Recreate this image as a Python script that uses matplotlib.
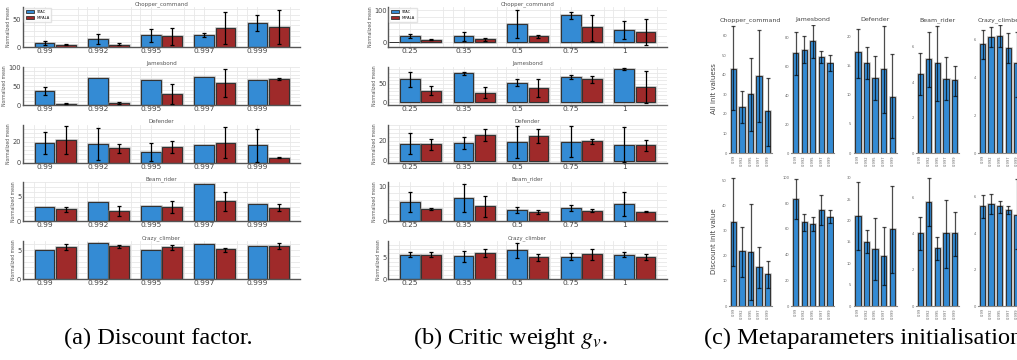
import matplotlib
matplotlib.use("Agg")
import matplotlib.pyplot as plt
import numpy as np
from matplotlib.ticker import AutoMinorLocator, FixedLocator

W, H = 1017, 360
BLUE = "#348bd4"
RED = "#9f2a2a"
NA = np.nan

games = ["Chopper_command", "Jamesbond", "Defender", "Beam_rider", "Crazy_climber"]

# (a) discount factor: rows = games, cols = gamma values
gamma_labels = ["0.99", "0.992", "0.995", "0.997", "0.999"]
a_stac = [[7.3, 14.6, 21.3, 22.0, 45.0],
          [37.9, 69.8, 64.7, 73.3, 66.4],
          [18.5, 17.8, 10.5, 17.2, 16.6],
          [2.85, 4.03, 3.13, 7.7, 3.54],
          [5.11, 6.3, 5.06, 6.14, 5.8]]
a_stac_lo = [[4.3, 5.5, 9.1, 18.3, 28.7],
             [25.9, NA, NA, NA, NA],
             [8.3, 3.1, 1.8, NA, 0.6],
             [NA, NA, NA, NA, NA],
             [NA, NA, NA, NA, NA]]
a_stac_hi = [[10.4, 23.8, 33.0, 25.6, 60.0],
             [48.0, NA, NA, NA, NA],
             [29.2, 32.9, 19.1, NA, 32.0],
             [NA, NA, NA, NA, NA],
             [NA, NA, NA, NA, NA]]
a_impala = [[4.3, 4.3, 19.5, 34.8, 36.6],
            [3.4, 5.2, 28.4, 58.6, 67.2],
            [21.2, 13.8, 15.4, 18.8, 4.6],
            [2.43, 2.15, 2.92, 4.17, 2.71],
            [5.5, 5.68, 5.62, 5.17, 5.8]]
a_impala_lo = [[3.0, 3.0, 3.7, 4.9, 5.5],
               [2.6, 2.6, 1.7, 20.7, 65.5],
               [8.3, 8.9, 9.8, 4.6, 4.3],
               [1.88, 1.11, 1.74, 2.08, 2.0],
               [5.0, 5.34, 5.11, 4.72, 5.28]]
a_impala_hi = [[5.5, 6.7, 34.8, 64.0, 68.3],
               [4.2, 7.8, 54.3, 95.7, 69.8],
               [34.5, 18.2, 20.6, 33.2, 5.2],
               [2.85, 3.06, 4.1, 6.04, 3.47],
               [6.0, 5.9, 5.97, 5.45, 6.25]]
a_ylim = [(0, 74), (0, 100), (0, 35.5), (0, 8.1), (0, 6.6)]
a_yticks = [[0, 50], [0, 50, 100], [0, 20], [0, 5], [0, 5]]

# (b) critic weight g_v
gv_labels = ["0.25", "0.35", "0.5", "0.75", "1"]
b_stac = [[19.6, 19.6, 56.7, 83.5, 38.1],
          [62.5, 78.6, 52.7, 68.8, 89.3],
          [17.0, 17.7, 18.7, 18.7, 16.3],
          [5.38, 6.54, 3.17, 3.85, 4.8],
          [5.69, 5.3, 6.69, 5.15, 5.69]]
b_stac_lo = [[14.4, 5.2, 13.4, 73.2, 9.3],
             [42.9, 75.0, 44.6, 64.3, 86.6],
             [6.7, 11.7, 2.7, 3.3, -1.0],
             [2.69, 2.5, 2.2, 2.9, 1.35],
             [5.15, 4.0, 5.0, 4.38, 5.15]]
b_stac_hi = [[24.7, 33.0, 100.0, 93.8, 67.0],
             [83.0, 82.0, 62.5, 73.2, 92.0],
             [27.7, 23.7, 34.7, 35.0, 33.7],
             [8.27, 10.6, 4.13, 4.7, 8.46],
             [6.23, 6.46, 8.46, 6.0, 6.38]]
b_impala = [[7.2, 9.3, 18.6, 46.4, 32.0],
            [32.1, 26.8, 38.4, 63.4, 41.0],
            [16.7, 26.0, 25.0, 19.7, 15.7],
            [3.46, 4.23, 2.6, 2.98, 2.7],
            [5.69, 6.08, 5.08, 5.77, 5.08]]
b_impala_lo = [[6.2, 3.1, 14.4, 5.2, -9.3],
               [19.6, 11.6, 13.4, 53.6, -2.7],
               [11.0, 20.3, 17.7, 17.3, 9.3],
               [3.17, 1.15, 1.92, 2.6, 2.6],
               [5.15, 5.08, 4.23, 4.54, 4.38]]
b_impala_hi = [[9.3, 14.4, 23.7, 85.6, 73.2],
               [43.8, 41.0, 63.4, 72.3, 84.8],
               [22.0, 32.0, 32.0, 22.3, 21.3],
               [3.75, 7.1, 3.17, 3.37, 2.79],
               [6.3, 7.08, 5.92, 6.92, 5.85]]
b_ylim = [(-15, 110), (-7, 96), (-2.3, 36), (0, 11.3), (0, 8.9)]
b_yticks = [[0, 100], [0, 50], [0, 20], [0, 10], [0, 5]]

# (c) metaparameter initialisation (STAC only)
init_labels = ["0.99", "0.992", "0.995", "0.997", "0.999"]
c_all = [[43.0, 23.6, 30.0, 39.5, 21.3],
         [68.9, 71.2, 77.2, 66.6, 62.0],
         [17.3, 15.4, 12.9, 14.4, 9.6],
         [4.49, 5.3, 5.08, 4.2, 4.1],
         [5.75, 6.14, 6.19, 5.54, 4.74]]
c_all_lo = [[21.8, 15.3, 11.2, 16.0, 3.6],
            [53.6, 62.0, 65.4, 62.4, 56.9],
            [12.9, 12.6, 9.1, 6.9, 2.5],
            [3.28, 3.74, 2.94, 3.0, 3.2],
            [4.97, 5.63, 5.63, 4.74, 2.97]]
c_all_hi = [[65.0, 31.6, 48.6, 63.0, 38.4],
            [83.7, 81.0, 88.3, 70.5, 67.5],
            [21.3, 18.1, 16.6, 21.8, 16.9],
            [5.66, 6.85, 7.2, 5.4, 4.94],
            [6.48, 6.65, 6.76, 6.34, 6.42]]
c_disc = [[33.6, 21.9, 21.5, 15.6, 12.7],
          [83.2, 65.1, 63.8, 74.7, 69.5],
          [21.0, 15.1, 13.4, 11.8, 18.0],
          [4.07, 5.74, 3.24, 4.06, 4.02],
          [5.47, 5.58, 5.47, 5.25, 5.0]]
c_disc_lo = [[15.9, 11.6, 2.3, 7.3, 7.3],
             [67.7, 58.7, 58.1, 63.0, 64.6],
             [13.2, 12.3, 6.2, 5.0, 7.8],
             [3.13, 4.43, 2.57, 2.13, 2.76],
             [4.81, 5.03, 5.08, 5.03, 3.1]]
c_disc_hi = [[51.3, 31.6, 40.8, 23.7, 18.0],
             [98.7, 71.6, 69.5, 86.6, 74.7],
             [29.0, 17.8, 20.6, 18.6, 28.2],
             [4.94, 7.07, 3.83, 5.9, 5.22],
             [6.09, 6.12, 5.74, 5.48, 6.95]]
c_all_ylim = [65.5, 88.5, 21.9, 7.23, 6.77]
c_all_step = [10, 20, 5, 2, 2]
c_disc_ylim = [51.5, 100.5, 30.2, 7.15, 7.07]
c_disc_step = [10, 20, 5, 2, 2]

rows_px = [(7, 47), (67, 105), (125, 163), (182, 221), (241, 279)]


def box(x0, y0, x1, y1):
    return [x0 / W, 1 - y1 / H, (x1 - x0) / W, (y1 - y0) / H]


def bars(ax, x, mean, lo, hi, color, width, ecol="black", ealpha=1.0):
    mean, lo, hi = (np.asarray(v, dtype=float) for v in (mean, lo, hi))
    ax.bar(x, mean, width=width, color="none", edgecolor="#999999",
           linewidth=1.8, alpha=0.6, zorder=2)
    ax.bar(x, mean, width=width, color=color, edgecolor="#333333",
           linewidth=0.8, zorder=2)
    ok = ~np.isnan(lo)
    ax.errorbar(x[ok], mean[ok], yerr=[mean[ok] - lo[ok], hi[ok] - mean[ok]],
                fmt="none", ecolor=ecol, alpha=ealpha, elinewidth=0.9,
                capsize=1.2, capthick=0.9, zorder=3)


def pair_panel(x0, x1, labels, stac, stac_lo, stac_hi, imp, imp_lo, imp_hi,
               ylims, yticks):
    x = np.arange(len(labels))
    for g, (t, b) in enumerate(rows_px):
        ax = fig.add_axes(box(x0, t, x1, b))
        bars(ax, x, stac[g], stac_lo[g], stac_hi[g], BLUE, 0.37)
        bars(ax, x + 0.4, imp[g], imp_lo[g], imp_hi[g], RED, 0.37)
        ax.set_xlim(-0.41, 4.8)
        ax.set_ylim(*ylims[g])
        ax.set_yticks(yticks[g])
        ax.yaxis.set_minor_locator(AutoMinorLocator(5))
        ax.set_xticks(x)
        ax.set_xticklabels(labels)
        ax.xaxis.set_minor_locator(FixedLocator(np.concatenate([x - 0.2, x + 0.62])))
        ax.set_axisbelow(True)
        ax.grid(True, which="both", color="#e8e8e8", linewidth=0.6)
        for s in ("top", "right"):
            ax.spines[s].set_visible(False)
        for s in ("left", "bottom"):
            ax.spines[s].set_color("#555555")
            ax.spines[s].set_linewidth(1.0)
        ax.tick_params(axis="x", which="both", length=0, labelsize=5.4,
                       labelcolor="#444444", pad=1)
        ax.tick_params(axis="y", which="both", length=0, labelsize=4.8,
                       labelcolor="#444444", pad=1)
        ax.set_title(games[g], fontsize=4.0, color="#555555", pad=1.5)
        ax.set_ylabel("Normalized mean", fontsize=3.3, color="#555555", labelpad=1)
        if g == 0:
            ax.bar([0], [0], color=BLUE, edgecolor="#333333", linewidth=0.6, label="STAC")
            ax.bar([0], [0], color=RED, edgecolor="#333333", linewidth=0.6, label="IMPALA")
            handles, names = ax.get_legend_handles_labels()
            ax.legend(handles[-2:], names[-2:], loc="upper left", fontsize=2.6,
                      handlelength=2.2, handleheight=0.9, borderpad=0.5,
                      labelspacing=0.6, frameon=True, edgecolor="#dddddd",
                      fancybox=False, borderaxespad=0.3)


def init_row(t, b, means, los, his, ylims, steps, ylabel, titles):
    x = np.arange(len(init_labels))
    for g in range(len(games)):
        x0 = 729 + 62.3 * g
        ax = fig.add_axes(box(x0, t, x0 + 43, b))
        bars(ax, x, means[g], los[g], his[g], BLUE, 0.62, ecol="black", ealpha=0.7)
        ax.set_xlim(-0.5, 4.5)
        ax.set_ylim(0, ylims[g])
        ax.set_yticks(np.arange(0, ylims[g] + 0.01, steps[g]))
        ax.set_xticks(x)
        ax.set_xticklabels(init_labels, rotation=90)
        for s in ("top", "right", "left"):
            ax.spines[s].set_visible(False)
        ax.spines["bottom"].set_color("#888888")
        ax.spines["bottom"].set_linewidth(0.8)
        ax.tick_params(length=0, labelsize=2.6, labelcolor="#666666", pad=1.5)
        if titles:
            ax.set_title(games[g], fontsize=4.5, color="#444444", pad=3)
        if g == 0:
            ax.set_ylabel(ylabel, fontsize=5.0, color="#444444", labelpad=4)


fig = plt.figure(figsize=(W / 100, H / 100), dpi=100)
plt.rcParams["mathtext.fontset"] = "stix"

pair_panel(22.7, 300, gamma_labels, a_stac, a_stac_lo, a_stac_hi,
           a_impala, a_impala_lo, a_impala_hi, a_ylim, a_yticks)
pair_panel(388, 667, gv_labels, b_stac, b_stac_lo, b_stac_hi,
           b_impala, b_impala_lo, b_impala_hi, b_ylim, b_yticks)
init_row(25, 153, c_all, c_all_lo, c_all_hi, c_all_ylim, c_all_step,
         "All init valuess", True)
init_row(177, 306, c_disc, c_disc_lo, c_disc_hi, c_disc_ylim, c_disc_step,
         "Discount init value", False)

cap = dict(fontsize=17.5, family="Liberation Serif", va="center")
fig.text(158 / W, 1 - 338 / H, "(a) Discount factor.", ha="center", **cap)
fig.text(510 / W, 1 - 338 / H, r"(b) Critic weight $g_v$.", ha="center", **cap)
fig.text(704 / W, 1 - 338 / H, "(c) Metaparameters initialisation", ha="left", **cap)

fig.savefig("out.png", dpi=100, facecolor="white")
